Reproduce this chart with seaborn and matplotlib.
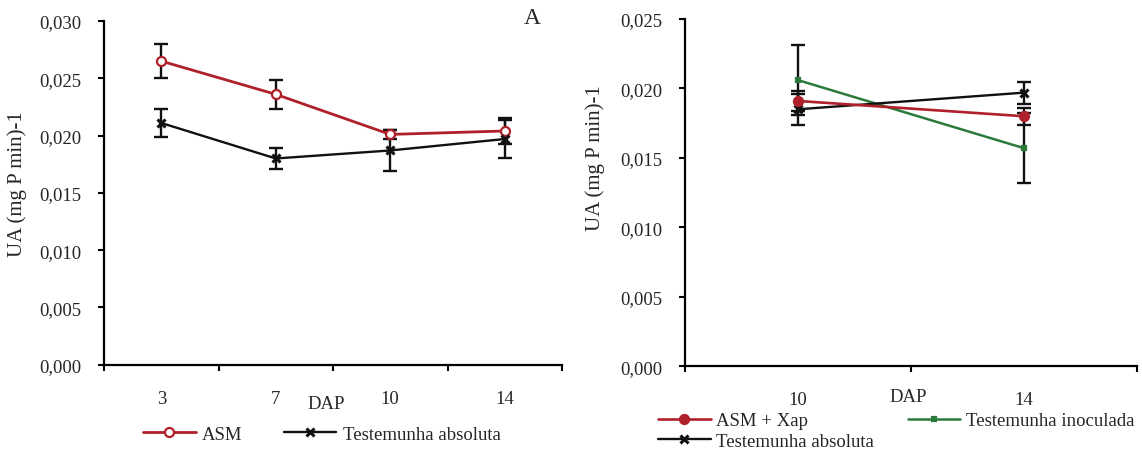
import matplotlib
matplotlib.use("Agg")
import matplotlib.pyplot as plt
from matplotlib.ticker import FuncFormatter, FixedLocator
import numpy as np
import pandas as pd
import seaborn as sns

# Panel A: days after planting and enzyme activity
days_a = ["3", "7", "10", "14"]
asm = [0.0265, 0.0236, 0.0201, 0.0204]
asm_err = [0.0015, 0.00125, 0.0004, 0.00115]
abs_a = [0.0211, 0.0180, 0.0187, 0.0197]
abs_a_err = [0.0012, 0.0009, 0.0018, 0.0017]

# Panel B
days_b = ["10", "14"]
asm_xap = [0.0191, 0.0180]
asm_xap_err = [0.0007, 0.0006]
inoc = [0.0206, 0.0157]
inoc_err = [0.0025, 0.0025]
abs_b = [0.0185, 0.0197]
abs_b_err = [0.0011, 0.0008]

RED = "#b0202a"
GREEN = "#2b7a3c"
BLACK = "#111111"

sns.set_style("ticks")
plt.rcParams["font.family"] = ["Liberation Serif", "DejaVu Serif"]
plt.rcParams["font.size"] = 13.5

fig = plt.figure(figsize=(11.42, 4.52), dpi=100)
ax_a = fig.add_axes([104 / 1142, 1 - 365.7 / 452, 458 / 1142, 343.7 / 452])
ax_b = fig.add_axes([685 / 1142, 1 - 367.3 / 452, 452 / 1142, 347.3 / 452])


def draw_series(ax, days, vals, errs, label, color, marker, ms, mfc, lw, mew=1.6):
    df = pd.DataFrame({"DAP": days, "UA": vals})
    sns.pointplot(data=df, x="DAP", y="UA", order=days, errorbar=None,
                  color=color, markers=marker, linewidth=lw, markersize=ms,
                  markerfacecolor=mfc, markeredgecolor=color,
                  markeredgewidth=mew, label=label, zorder=3, ax=ax)
    ax.errorbar(np.arange(len(days)), vals, yerr=errs, fmt="none",
                ecolor=BLACK, elinewidth=1.7, capsize=5, capthick=1.7,
                zorder=2.5)


draw_series(ax_a, days_a, asm, asm_err, "ASM", RED, "o", 6.5, "white", 2.0)
draw_series(ax_a, days_a, abs_a, abs_a_err, "Testemunha absoluta", BLACK,
            "x", 6, BLACK, 1.7, mew=2.2)

draw_series(ax_b, days_b, inoc, inoc_err, "Testemunha inoculada", GREEN,
            "s", 3, GREEN, 1.8)
draw_series(ax_b, days_b, abs_b, abs_b_err, "Testemunha absoluta", BLACK,
            "x", 6, BLACK, 1.7, mew=2.2)
draw_series(ax_b, days_b, asm_xap, asm_xap_err, "ASM + Xap", RED,
            "o", 6.5, RED, 1.9)

comma = FuncFormatter(lambda v, p: f"{v:.3f}".replace(".", ","))

for ax, ymax, n in [(ax_a, 0.030, len(days_a)), (ax_b, 0.025, len(days_b))]:
    ax.set_xlim(-0.5, n - 0.5)
    ax.set_ylim(0, ymax)
    ax.yaxis.set_major_locator(FixedLocator(np.arange(0, ymax + 1e-9, 0.005)))
    ax.yaxis.set_major_formatter(comma)
    ax.xaxis.set_minor_locator(FixedLocator(np.arange(n + 1) - 0.5))
    ax.tick_params(axis="x", which="major", length=0, pad=18, labelsize=13.5)
    ax.tick_params(axis="x", which="minor", length=4, width=1.5,
                   direction="out", color="black")
    ax.tick_params(axis="y", length=4, width=1.5, direction="out",
                   pad=12, labelsize=13.5, color="black")
    for side in ["top", "right"]:
        ax.spines[side].set_visible(False)
    for side in ["left", "bottom"]:
        ax.spines[side].set_linewidth(1.6)
        ax.spines[side].set_color("black")
    ax.set_ylabel("UA (mg P min)-1", fontsize=15)
    ax.set_xlabel("DAP", fontsize=13.5)
    ax.xaxis.label.set_va("center")
    ax.grid(False)
    if ax.get_legend() is not None:
        ax.get_legend().remove()

ax_a.yaxis.set_label_coords(-0.168, 0.529)
ax_a.xaxis.set_label_coords(0.485, -0.114)
ax_b.yaxis.set_label_coords(-0.177, 0.602)
ax_b.xaxis.set_label_coords(0.493, -0.086)

fig.text(532 / 1142, 1 - 19 / 452, "A", fontsize=17, ha="center", va="center")

# Legends below each panel
h_a, l_a = ax_a.get_legend_handles_labels()
fig.legend(h_a, l_a, loc="center left", bbox_to_anchor=(143 / 1142, 1 - 435 / 452),
           ncol=2, frameon=False, fontsize=13.5, handlelength=2.8,
           handletextpad=0.35, columnspacing=2.2, borderpad=0, borderaxespad=0)

h_b, l_b = ax_b.get_legend_handles_labels()
order = [l_b.index(k) for k in ["ASM + Xap", "Testemunha absoluta", "Testemunha inoculada"]]
fig.legend([h_b[i] for i in order], [l_b[i] for i in order], loc="upper left",
           bbox_to_anchor=(658 / 1142, 1 - 413 / 452), ncol=2, frameon=False,
           fontsize=13.5, handlelength=2.8, handletextpad=0.3,
           columnspacing=1.8, labelspacing=0.2, borderpad=0, borderaxespad=0)

fig.savefig("out.png", dpi=100, facecolor="white")
